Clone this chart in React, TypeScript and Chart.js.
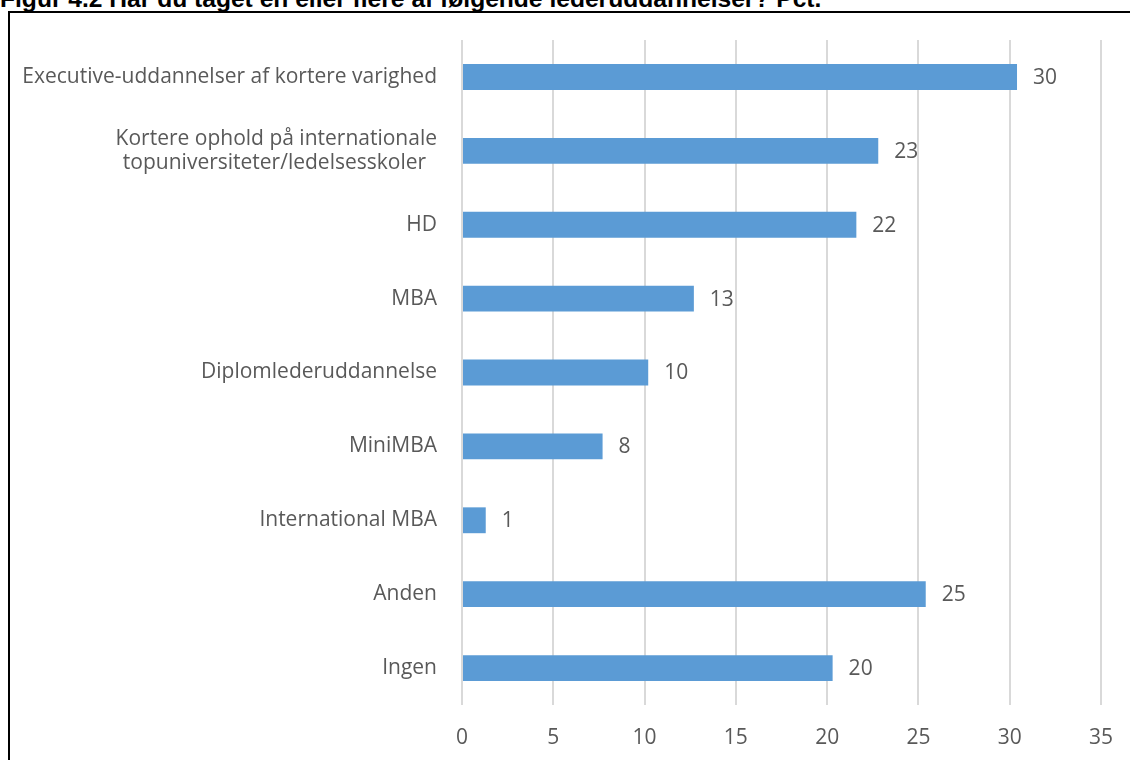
import React, { useEffect, useRef } from "react";
import { Chart, registerables } from "chart.js";

Chart.register(...registerables);

const TITLE = "Figur 4.2 Har du taget en eller flere af følgende lederuddannelser? Pct.";

const categories: (string | string[])[] = [
  "Executive-uddannelser af kortere varighed",
  ["Kortere ophold på internationale", "topuniversiteter/ledelsesskoler  "],
  "HD",
  "MBA",
  "Diplomlederuddannelse",
  "MiniMBA",
  "International MBA",
  "Anden",
  "Ingen",
];

const values = [30.4, 22.8, 21.6, 12.7, 10.2, 7.7, 1.3, 25.4, 20.3];

const xTicks = [0, 5, 10, 15, 20, 25, 30, 35];

const FONT = "'Open Sans', 'Noto Sans', sans-serif";
const TEXT = "#595959";
const FS = 21;

const valueLabels = {
  id: "valueLabels",
  afterDatasetsDraw(chart: any) {
    const ctx = chart.ctx;
    const meta = chart.getDatasetMeta(0);
    ctx.save();
    ctx.font = `${FS}px ${FONT}`;
    ctx.fillStyle = TEXT;
    ctx.textAlign = "left";
    ctx.textBaseline = "middle";
    meta.data.forEach((bar: any, i: number) => {
      ctx.fillText(String(Math.round(values[i])), bar.x + 16, bar.y + 1);
    });
    ctx.restore();
  },
};

export default function App() {
  const ref = useRef<HTMLCanvasElement>(null);

  useEffect(() => {
    if (!ref.current) return;
    const chart = new Chart(ref.current, {
      type: "bar",
      data: {
        labels: categories,
        datasets: [
          {
            data: values,
            backgroundColor: "#5B9BD5",
            borderWidth: 0,
            categoryPercentage: 1,
            barPercentage: 0.35,
          },
        ],
      },
      options: {
        indexAxis: "y",
        animation: false,
        responsive: false,
        maintainAspectRatio: false,
        layout: { padding: { top: 26, right: 29, left: 0, bottom: 0 } },
        plugins: {
          legend: { display: false },
          tooltip: { enabled: false },
        },
        scales: {
          x: {
            min: 0,
            max: 35,
            afterBuildTicks: (scale: any) => {
              scale.ticks = xTicks.map((v) => ({ value: v }));
            },
            afterFit: (scale: any) => {
              scale.height = 55;
              scale.paddingLeft = 0;
              scale.paddingRight = 0;
            },
            grid: { color: "#D9D9D9", lineWidth: 2, drawTicks: false },
            border: { display: false },
            ticks: {
              padding: 20,
              color: TEXT,
              font: { family: FONT, size: FS },
              maxRotation: 0,
            },
          },
          y: {
            afterFit: (scale: any) => {
              scale.width = 452;
              scale.paddingTop = 0;
              scale.paddingBottom = 0;
            },
            grid: { display: false, drawTicks: false },
            border: { display: false },
            ticks: {
              padding: 25,
              color: TEXT,
              font: { family: FONT, size: FS, lineHeight: 1.15 },
            },
          },
        },
      },
      plugins: [valueLabels],
    });
    return () => chart.destroy();
  }, []);

  return (
    <div
      style={{
        position: "fixed",
        left: 0,
        top: 0,
        width: 1130,
        height: 760,
        background: "#fff",
        overflow: "hidden",
      }}
    >
      <div
        style={{
          position: "absolute",
          left: 0,
          top: -15,
          font: "bold 24.6px 'Liberation Sans', Arial, sans-serif",
          lineHeight: "28px",
          color: "#000",
          whiteSpace: "nowrap",
        }}
      >
        {TITLE}
      </div>
      <div
        style={{
          position: "absolute",
          left: 8,
          top: 11,
          width: 1130,
          height: 760,
          borderLeft: "2px solid #000",
          borderTop: "2px solid #000",
        }}
      />
      <canvas
        ref={ref}
        width={1120}
        height={746}
        style={{ position: "absolute", left: 10, top: 14, width: 1120, height: 746 }}
      />
    </div>
  );
}
